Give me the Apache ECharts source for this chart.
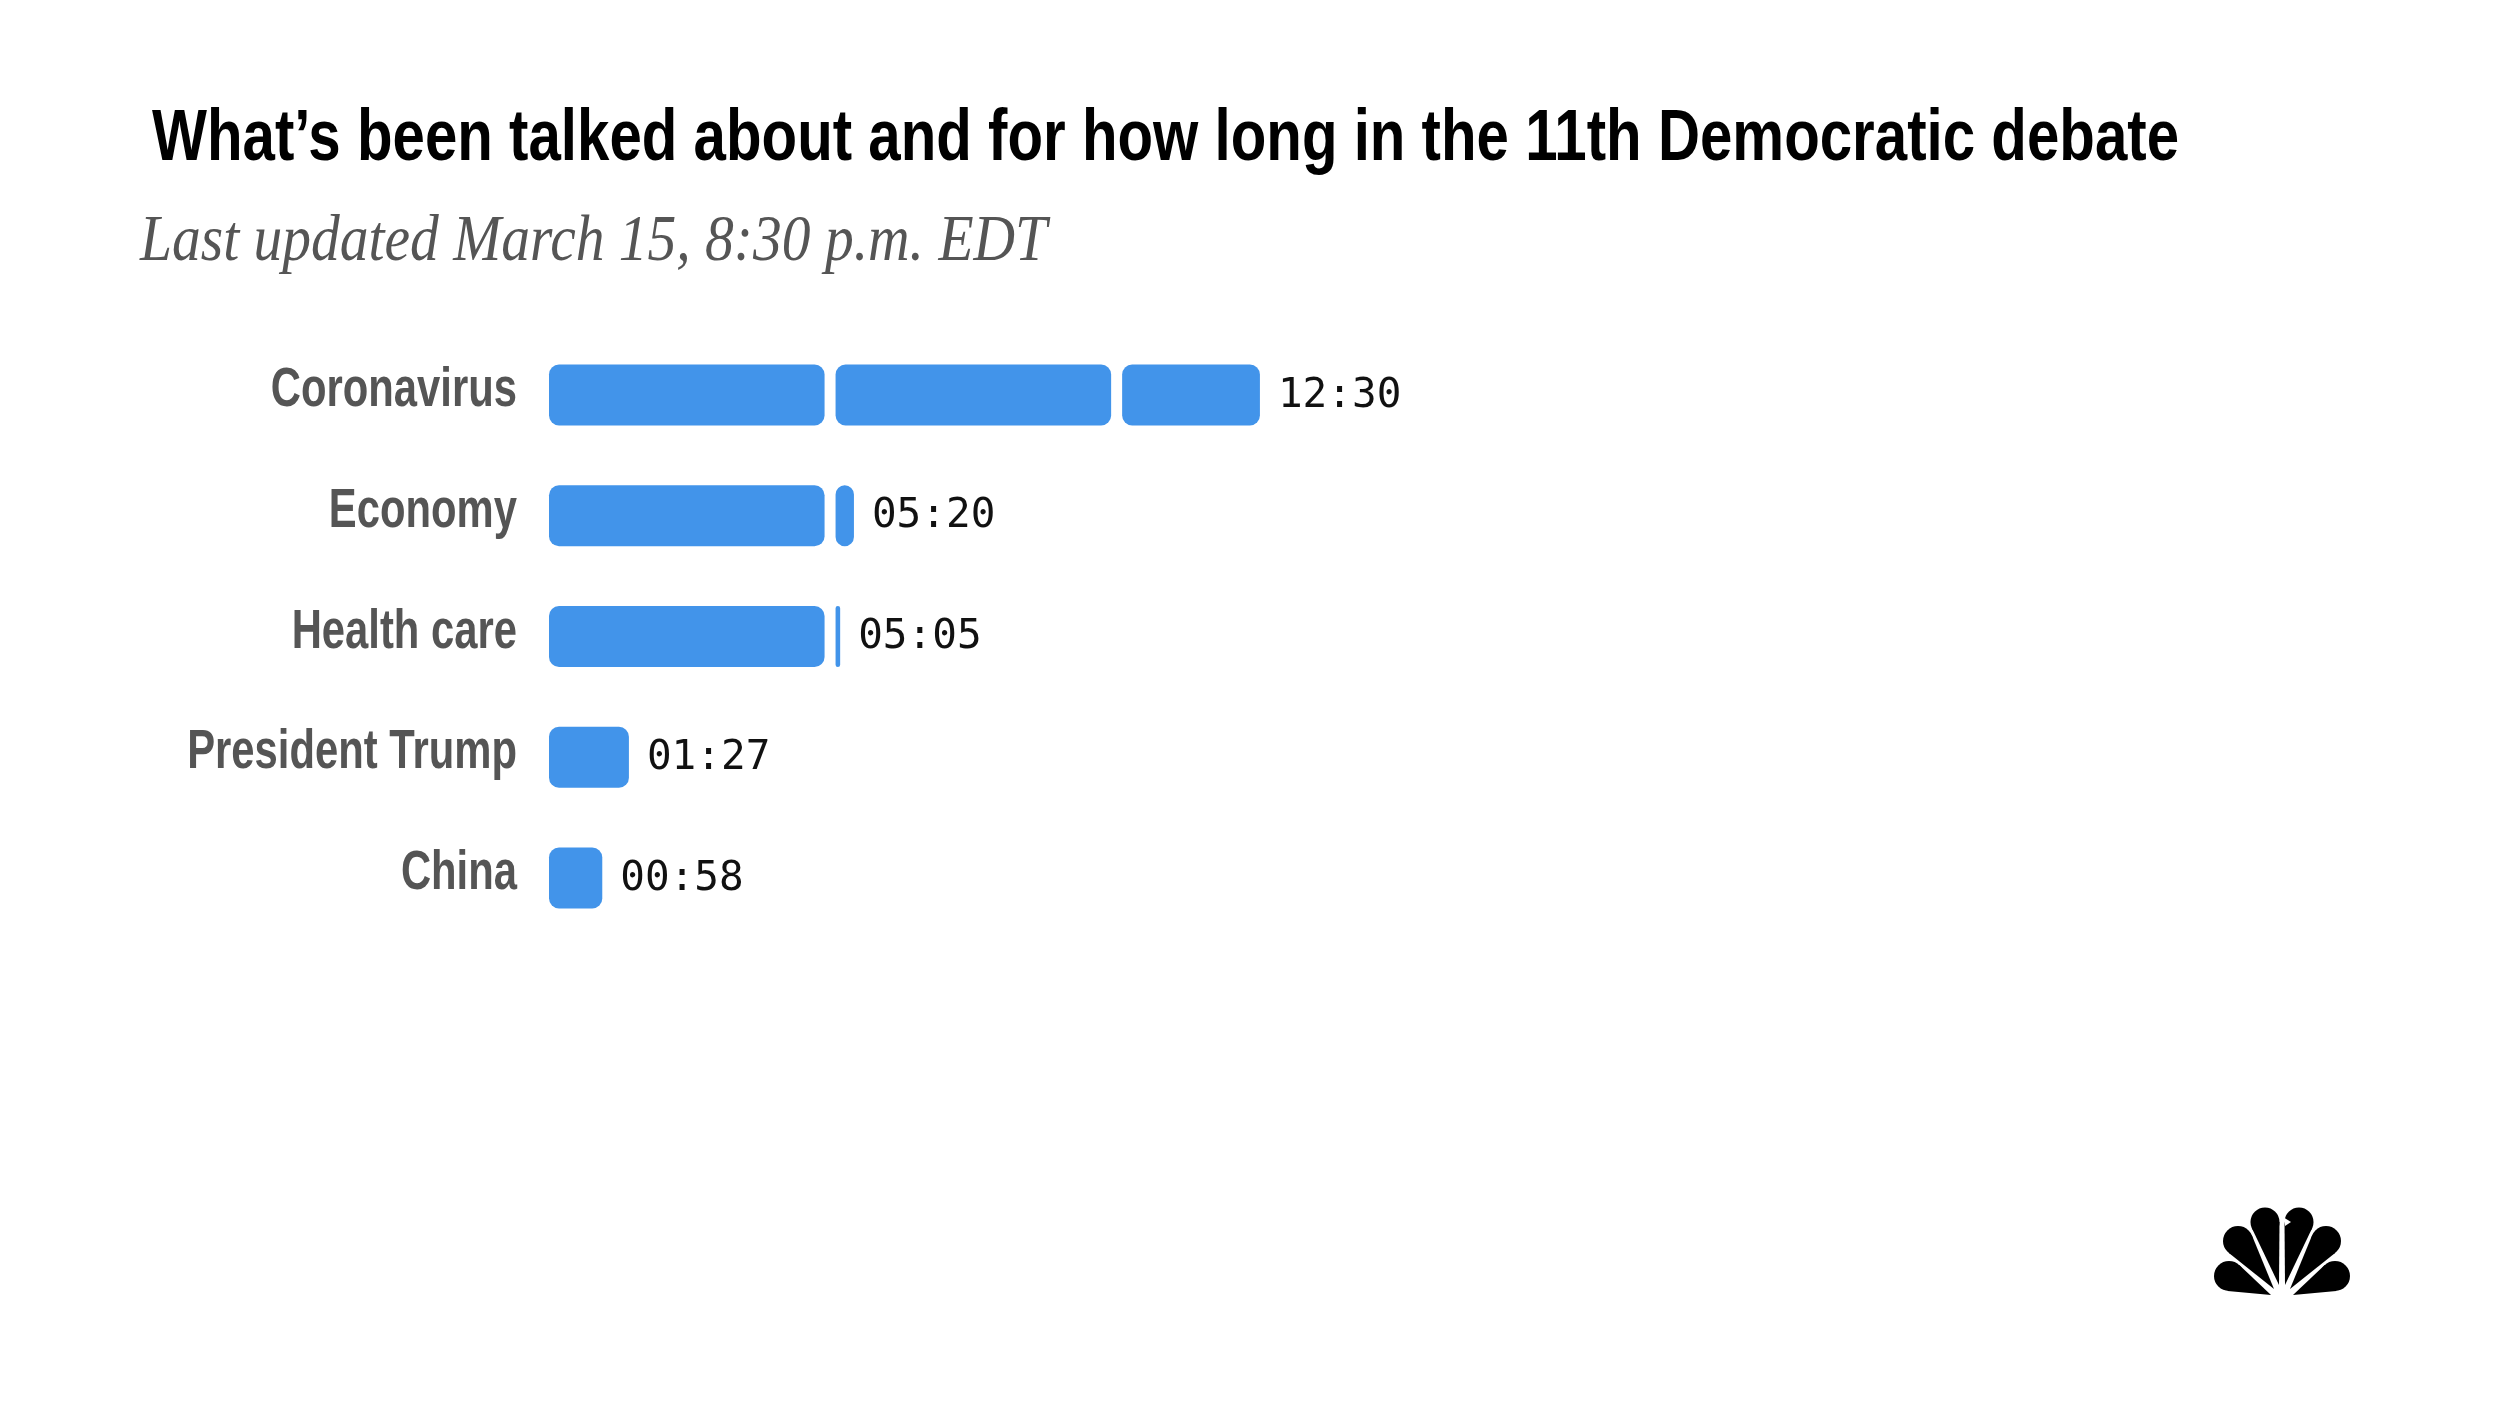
<!DOCTYPE html>
<html>
<head>
<meta charset="utf-8">
<script src="https://cdn.jsdelivr.net/npm/echarts@6/dist/echarts.min.js"></script>
<style>
  html, body { margin: 0; padding: 0; background: #fff; }
  #chart { width: 2500px; height: 1406px; }
</style>
</head>
<body>
<div id="chart"></div>
<script>
// ---- data ----
var categories = ['Coronavirus', 'Economy', 'Health care', 'President Trump', 'China'];
var secondsTalked = [750, 320, 305, 87, 58];   // 12:30, 05:20, 05:05, 01:27, 00:58
var chunkSeconds = 300;                        // each block = 5 minutes
var titleText = 'What\u2019s been talked about and for how long in the 11th Democratic debate';
var subtitleText = 'Last updated March 15, 8:30 p.m. EDT';

// ---- style ----
var BAR_COLOR = '#4294ea';
var BAR_H = 61;
var GAP = 11;
var RADIUS = 10;
var LABEL_GAP = 18;
var CAT_MARGIN = 32;

function fmt(s) {
  var m = Math.floor(s / 60), r = s % 60;
  return (m < 10 ? '0' : '') + m + ':' + (r < 10 ? '0' : '') + r;
}

// peacock logo (decoration): each feather = circle + tangent triangle to its base
var feathers = [
  [2229, 1276, 2271, 1295, 15],
  [2238, 1241, 2274, 1289, 15],
  [2265, 1222, 2279, 1285, 14.5],
  [2299, 1222, 2285, 1285, 14.5],
  [2326, 1241, 2290, 1289, 15],
  [2335, 1276, 2293, 1295, 15]
];

var graphics = [
  {
    type: 'text', x: 152, y: 140, scaleX: 0.809,
    style: {
      text: titleText, fill: '#000', verticalAlign: 'middle', align: 'left',
      font: 'bold 72px "Liberation Sans", Arial, sans-serif'
    }
  },
  {
    type: 'text', x: 140, y: 243, scaleX: 0.885,
    style: {
      text: subtitleText, fill: '#555', verticalAlign: 'middle', align: 'left',
      font: 'italic 65px "Liberation Serif", "DejaVu Serif", serif'
    }
  }
];
feathers.forEach(function (f) {
  var cx = f[0], cy = f[1], bx = f[2], by = f[3], r = f[4];
  var dx = bx - cx, dy = by - cy;
  var d = Math.sqrt(dx * dx + dy * dy);
  var a = Math.atan2(dy, dx);
  var phi = Math.acos(r / d);
  graphics.push({
    type: 'polygon',
    shape: { points: [[bx, by],
      [cx + r * Math.cos(a + phi), cy + r * Math.sin(a + phi)],
      [cx + r * Math.cos(a - phi), cy + r * Math.sin(a - phi)]] },
    style: { fill: '#000' }
  });
  graphics.push({ type: 'circle', shape: { cx: cx, cy: cy, r: r }, style: { fill: '#000' } });
});
// beak notch
graphics.push({
  type: 'polygon',
  shape: { points: [[2283, 1217], [2291, 1222], [2285, 1226]] },
  style: { fill: '#fff' }
});

var chart = echarts.init(document.getElementById('chart'), null, { renderer: 'canvas' });

chart.setOption({
  backgroundColor: '#fff',
  animation: false,
  grid: { left: 549, right: 104.7, top: 334.6, bottom: 1406 - 938.4, containLabel: false },
  xAxis: { type: 'value', min: 0, max: 2010, show: false },
  yAxis: {
    type: 'category', data: categories, inverse: true,
    axisLine: { show: false }, axisTick: { show: false }, splitLine: { show: false },
    axisLabel: { show: false }
  },
  graphic: graphics,
  series: [{
    type: 'custom',
    encode: { x: 0, y: 1 },
    data: secondsTalked.map(function (v, i) { return [v, i]; }),
    renderItem: function (params, api) {
      var v = api.value(0), ci = api.value(1);
      var base = api.coord([0, ci]);
      var children = [];
      // category name (axis label), condensed
      children.push({
        type: 'text', x: base[0] - CAT_MARGIN, y: base[1] - 4, scaleX: 0.76,
        style: {
          text: categories[ci], align: 'right', verticalAlign: 'middle',
          fill: '#555', fontSize: 55, fontWeight: 'bold',
          fontFamily: '"Liberation Sans", Arial, sans-serif'
        }
      });
      var x = base[0], rem = v;
      while (rem > 0) {
        var s = Math.min(rem, chunkSeconds);
        var w = api.size([s, 0])[0];
        children.push({
          type: 'rect',
          shape: { x: x, y: base[1] - BAR_H / 2, width: w, height: BAR_H, r: RADIUS },
          style: { fill: BAR_COLOR }
        });
        x += w + GAP;
        rem -= s;
      }
      x -= GAP;
      children.push({
        type: 'text', x: x + LABEL_GAP, y: base[1] + 1,
        style: {
          text: fmt(v), align: 'left', verticalAlign: 'middle',
          fill: '#111', fontSize: 41, fontFamily: '"DejaVu Sans Mono", monospace'
        }
      });
      return { type: 'group', children: children };
    }
  }]
});
</script>
</body>
</html>
